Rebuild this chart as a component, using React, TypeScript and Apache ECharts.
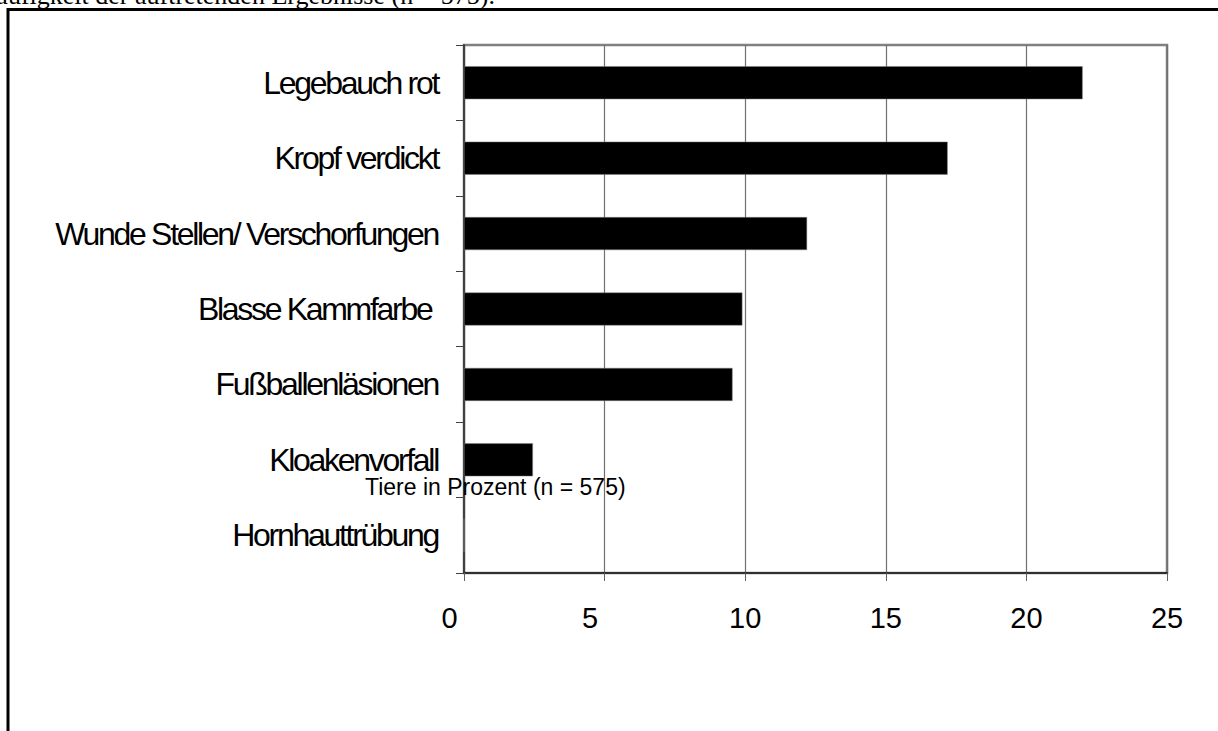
import React, { useEffect, useRef } from "react";
import * as echarts from "echarts";

const categories = [
  "Legebauch rot",
  "Kropf verdickt",
  "Wunde Stellen/ Verschorfungen",
  "Blasse Kammfarbe ",
  "Fußballenläsionen",
  "Kloakenvorfall",
  "Hornhauttrübung",
];
const values = [22.0, 17.2, 12.2, 9.9, 9.55, 2.45, 0];
const xTicks = { min: 0, max: 25, interval: 5 };
const axisTitle = "Tiere in Prozent (n = 575)";
const headerText = "Häufigkeit der auftretenden Ergebnisse (n = 575).";

export default function App() {
  const ref = useRef<HTMLDivElement>(null);
  useEffect(() => {
    if (!ref.current) return;
    const chart = echarts.init(ref.current, undefined, { renderer: "svg" });
    chart.setOption({
      animation: false,
      backgroundColor: "#ffffff",
      grid: {
        left: 464,
        right: 51,
        top: 45,
        bottom: 158,
        show: true,
        borderColor: "#808080",
        borderWidth: 2.5,
        containLabel: false,
        outerBoundsMode: "none",
      },
      xAxis: {
        type: "value",
        min: xTicks.min,
        max: xTicks.max,
        interval: xTicks.interval,
        axisLine: { show: true, lineStyle: { color: "#303030", width: 2 } },
        axisTick: { show: true, length: 8, lineStyle: { color: "#606060", width: 1 } },
        splitLine: { show: true, lineStyle: { color: "#707070", width: 1.2 } },
        axisLabel: {
          margin: 30,
          fontFamily: "Liberation Sans",
          fontSize: 29,
          color: "#000",
          formatter: (v: number) => (v < 10 ? `${v}{s|}` : `${v}`),
          rich: { s: { width: 29 } },
        },
      },
      yAxis: {
        type: "category",
        data: categories,
        inverse: true,
        axisLine: { show: true, lineStyle: { color: "#404040", width: 2 } },
        axisTick: { show: true, length: 8, lineStyle: { color: "#404040", width: 1 } },
        axisLabel: {
          margin: 26,
          fontFamily: "Arimo, Liberation Sans",
          fontSize: 32,
          color: "#000",
        },
      },
      series: [
        {
          type: "bar",
          data: values,
          barWidth: 33,
          itemStyle: { color: "#000000", borderColor: "#808080", borderWidth: 0.5 },
        },
      ],
      graphic: [
        {
          type: "rect",
          shape: { x: 8, y: 9.5, width: 1400, height: 1000 },
          style: { fill: "none", stroke: "#000", lineWidth: 3 },
          silent: true,
        },
        {
          type: "text",
          x: 495,
          y: -5,
          style: {
            text: headerText,
            fontFamily: "Liberation Serif",
            fontSize: 26,
            fill: "#000",
            align: "right",
            verticalAlign: "middle",
          },
        },
        {
          type: "text",
          x: 365,
          y: 487,
          z: 100,
          style: {
            text: axisTitle,
            fontFamily: "Liberation Sans",
            fontSize: 23,
            fill: "#000",
            align: "left",
            verticalAlign: "middle",
          },
        },
      ],
    });
    return () => chart.dispose();
  }, []);
  return (
    <>
      <style>{`text[style*="Arimo"] { letter-spacing: -2.3px; }`}</style>
      <div
        ref={ref}
        style={{ position: "fixed", left: 0, top: 0, width: 1218, height: 731, background: "#fff" }}
      />
    </>
  );
}
